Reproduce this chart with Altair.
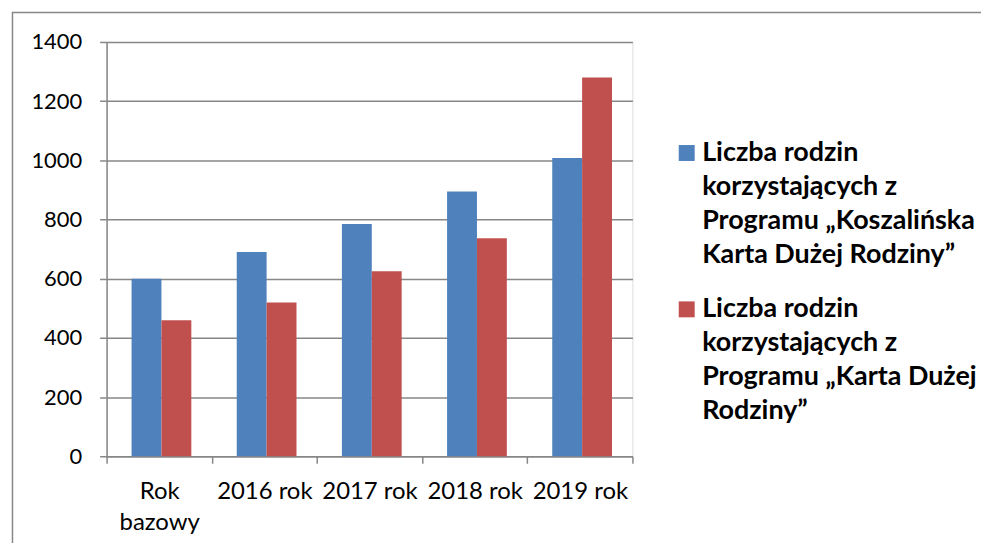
import altair as alt
import pandas as pd

categories = ["Rok bazowy", "2016 rok", "2017 rok", "2018 rok", "2019 rok"]
series = [
    "Liczba rodzin\nkorzystających z\nProgramu „Koszalińska\nKarta Dużej Rodziny”",
    "Liczba rodzin\nkorzystających z\nProgramu „Karta Dużej\nRodziny”",
]
kdr_koszalin = [600, 690, 785, 895, 1008]
kdr_national = [460, 520, 625, 737, 1280]
colors = ["#4F81BD", "#C0504D"]
y_ticks = [0, 200, 400, 600, 800, 1000, 1200, 1400]

rows = []
for i, c in enumerate(categories):
    rows.append({"kategoria": c, "seria": series[0], "wartosc": kdr_koszalin[i]})
    rows.append({"kategoria": c, "seria": series[1], "wartosc": kdr_national[i]})
df = pd.DataFrame(rows)

GRAY = "#878787"
FONT = "Lato"

bars = alt.Chart(df).mark_bar().encode(
    x=alt.X(
        "kategoria:N",
        sort=categories,
        scale=alt.Scale(paddingInner=0, paddingOuter=0),
        axis=alt.Axis(
            title=None,
            labelAngle=0,
            labelFont=FONT,
            labelFontSize=24,
            labelColor="#000000",
            labelLineHeight=32,
            labelPadding=16,
            labelExpr="indexof(datum.label, 'Rok ') == 0 ? split(datum.label, ' ') : datum.label",
            tickBand="extent",
            tickSize=7,
            tickColor=GRAY,
            tickWidth=1.5,
            domainColor=GRAY,
            domainWidth=1.5,
            grid=False,
        ),
    ),
    xOffset=alt.XOffset(
        "seria:N",
        sort=series,
        scale=alt.Scale(domain=series, paddingInner=0, paddingOuter=0.76, align=0.55),
    ),
    y=alt.Y(
        "wartosc:Q",
        scale=alt.Scale(domain=[0, 1400], nice=False),
        axis=alt.Axis(
            title=None,
            values=y_ticks,
            format="d",
            labelFont=FONT,
            labelFontSize=22,
            labelColor="#000000",
            labelPadding=18,
            tickSize=7,
            tickColor=GRAY,
            tickWidth=1.5,
            domainColor=GRAY,
            domainWidth=1.5,
            gridColor=GRAY,
            gridWidth=1.5,
        ),
    ),
    color=alt.Color(
        "seria:N",
        scale=alt.Scale(domain=series, range=colors),
        legend=alt.Legend(
            title=None,
            orient="none",
            legendX=569,
            legendY=106,
            symbolType="M-1,-2H1V0H-1Z",
            symbolSize=256,
            symbolStrokeWidth=0,
            labelFont=FONT,
            labelFontSize=27,
            labelFontWeight="bold",
            labelColor="#000000",
            labelLimit=400,
            labelOffset=2,
            labelBaseline="alphabetic",
            labelExpr="split(datum.label, '\\n')",
            rowPadding=27,
            padding=0,
        ),
    ),
)

frame = alt.Chart(pd.DataFrame({"f": [0]})).mark_rect(
    fill="transparent", stroke=GRAY, strokeWidth=1.5
).encode(
    x=alt.value(-94.5), x2=alt.value(1000), y=alt.value(-29.5), y2=alt.value(700)
)

chart = alt.layer(frame, bars).properties(
    width=528,
    height=416,
    autosize=alt.AutoSizeParams(type="none"),
    padding={"left": 99, "top": 33, "right": 350, "bottom": 86},
).configure_view(strokeWidth=0).configure(
    style={"guide-label": {"lineHeight": 34}}
)

chart.save("out.html", embed_options={"renderer": "svg", "actions": False})
